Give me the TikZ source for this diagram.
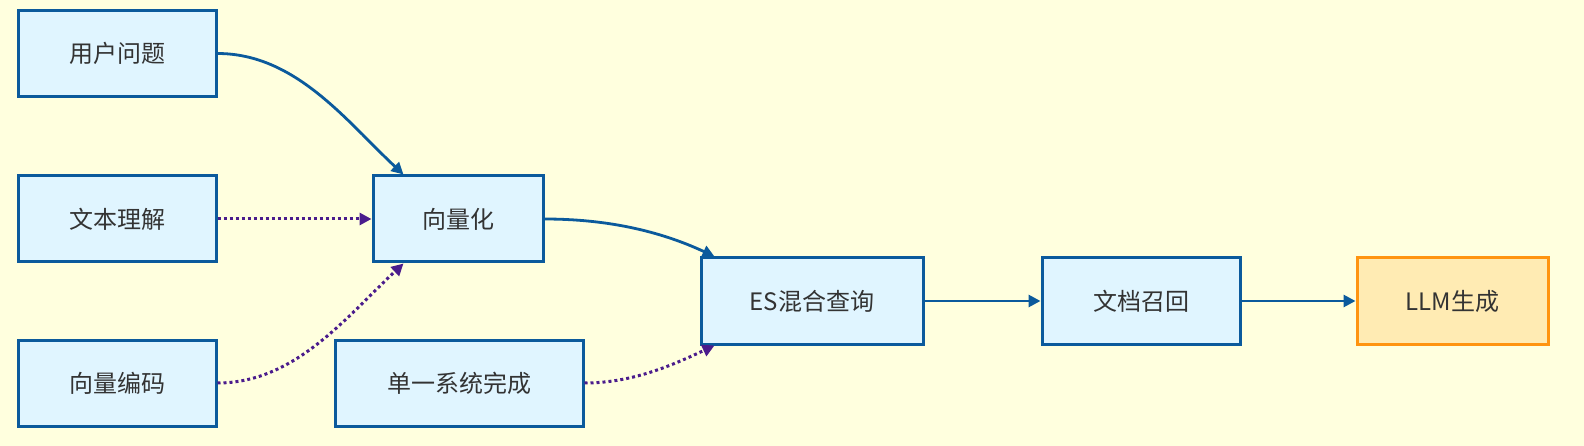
\documentclass[tikz,border=0pt]{standalone}
\usepackage{fontspec}
\setmainfont{Noto Sans CJK SC}
\usetikzlibrary{arrows.meta}
\definecolor{bg}{HTML}{FFFFDE}
\definecolor{boxfill}{HTML}{E0F5FF}
\definecolor{boxdraw}{HTML}{0B5A9C}
\definecolor{purp}{HTML}{4A1C8C}
\definecolor{orfill}{HTML}{FFEBB3}
\definecolor{ordraw}{HTML}{FF9410}
\definecolor{txt}{HTML}{333333}
\tikzset{
  box/.style={draw=boxdraw, fill=boxfill, line width=3pt, minimum height=86pt, inner sep=0pt, text=txt, font=\fontsize{24}{28}\selectfont},
  obox/.style={box, draw=ordraw, fill=orfill},
  solidarr/.style={draw=boxdraw, line width=2.8pt, -{Triangle[length=12pt,width=12pt]}},
  dotarr/.style={draw=purp, line width=3pt, dash pattern=on 3pt off 3pt, -{Triangle[length=12pt,width=12pt,fill=purp]}}
}
\begin{document}
\begin{tikzpicture}[x=1pt,y=1pt]
\fill[bg] (0,0) rectangle (1584,-446);
\useasboundingbox (0,0) rectangle (1584,-446);
\node[box, minimum width=198pt] (yh) at (117,-53.5) {用户问题};
\node[box, minimum width=198pt] (wb) at (117,-219) {文本理解};
\node[box, minimum width=198pt] (xb) at (117,-383) {向量编码};
\node[box, minimum width=170pt] (xl) at (458,-219) {向量化};
\node[box, minimum width=248pt] (dy) at (459,-383) {单一系统完成};
\node[box, minimum width=222pt] (es) at (812,-301) {ES混合查询};
\node[box, minimum width=198pt] (wd) at (1141,-301) {文档召回};
\node[obox, minimum width=191pt] (llm) at (1452.5,-301) {LLM生成};
\coordinate (xlt) at ([xshift=32pt]xl.north west);
\coordinate (xlb) at ([xshift=32pt]xl.south west);
\coordinate (est) at ([xshift=15pt]es.north west);
\coordinate (esb) at ([xshift=15pt]es.south west);
\draw[solidarr] (yh.east) to[out=0,in=137,looseness=0.9] (xlt);
\draw[dotarr] (wb.east) -- (xl.west);
\draw[dotarr] (xb.east) to[out=0,in=223,looseness=0.9] (xlb);
\draw[solidarr] (xl.east) to[out=0,in=155,looseness=0.9] (est);
\draw[dotarr] (dy.east) to[out=0,in=205,looseness=0.9] (esb);
\draw[solidarr] (es.east) -- (wd.west);
\draw[solidarr] (wd.east) -- (llm.west);
\end{tikzpicture}
\end{document}
